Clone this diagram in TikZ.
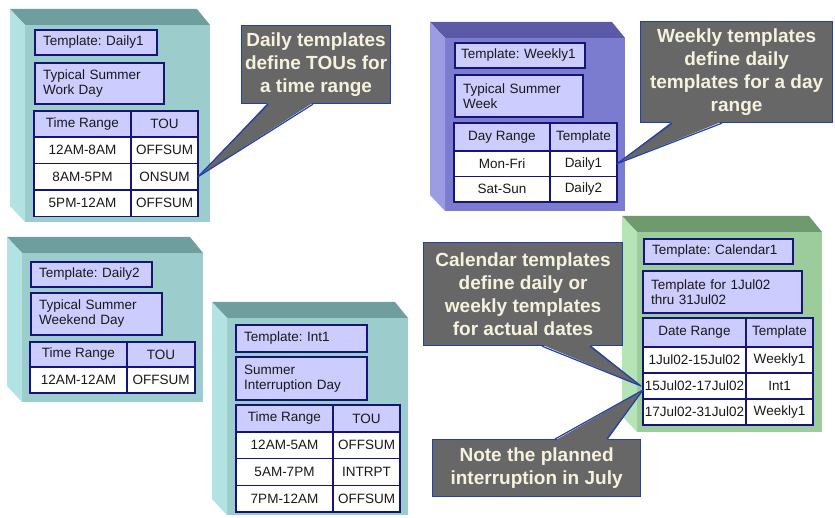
\documentclass[tikz,border=0pt]{standalone}
\usepackage{fontspec}
\setmainfont{Liberation Sans}
\usetikzlibrary{calc,positioning}
\frenchspacing
\definecolor{tealfront}{HTML}{9CCCCC}
\definecolor{tealtop}{HTML}{6F9E9E}
\definecolor{tealside}{HTML}{B3E2E2}
\definecolor{purpfront}{HTML}{7B7BCF}
\definecolor{purptop}{HTML}{5A5AA6}
\definecolor{purpside}{HTML}{9C9CE2}
\definecolor{greenfront}{HTML}{9CCC9C}
\definecolor{greentop}{HTML}{6F9A6F}
\definecolor{greenside}{HTML}{B6E4B6}
\definecolor{lav}{HTML}{CCCCFF}
\definecolor{navyline}{HTML}{14147A}
\definecolor{notefill}{HTML}{676767}
\definecolor{noteline}{HTML}{2140B0}
\definecolor{notetext}{HTML}{F6F2DE}

\begin{document}
\begin{tikzpicture}[x=1pt, y=-1pt,
	face/.style={anchor=north west, inner sep=0pt, outer sep=0pt},
	tbox/.style={anchor=north west, draw=navyline, line width=1.3pt, fill=lav, inner xsep=8pt, inner ysep=0pt, outer sep=0pt, align=left, text=black!90, font=\fontsize{13.5}{15}\selectfont},
	head/.style={anchor=north west, draw=navyline, line width=1.3pt, fill=lav, inner sep=0pt, outer sep=0pt, text=black!90, font=\fontsize{13.5}{15}\selectfont},
	cellw/.style={head, fill=white},
	note/.style={anchor=north west, draw=noteline, line width=1.2pt, fill=notefill, text=notetext, align=center, inner sep=0pt, font=\bfseries\fontsize{19}{23}\selectfont},
	pointer/.style={draw=noteline, line width=1.2pt, line join=round}]

	\useasboundingbox (0,0) rectangle (835,518);

	% Box fronts
	\node[face, fill=tealfront, minimum width=185, minimum height=197] (daily1) at (25,25) {};
	\node[face, fill=purpfront, minimum width=180, minimum height=173] (weekly1) at (445,38) {};
	\node[face, fill=tealfront, minimum width=181, minimum height=149] (daily2) at (22,253) {};
	\node[face, fill=tealfront, minimum width=181, minimum height=197] (int1) at (227,318) {};
	\node[face, fill=greenfront, minimum width=185, minimum height=200] (cal1) at (637,232) {};

	% Top and side faces
	\foreach \b/\col in {daily1/teal, weekly1/purp, daily2/teal, int1/teal, cal1/green} {
		\fill[fill=\col top] (\b.north west) -- ++(-15,-16) -- ($(\b.north east)+(-13,-16)$) -- (\b.north east) -- cycle;
		\fill[fill=\col side] (\b.north west) -- ++(-15,-16) -- ($(\b.south west)+(-15,-16)$) -- (\b.south west) -- cycle;
	}

	% Daily1
	\node[tbox, text width=106, minimum height=25] (d1name) at (35,30) {Template: Daily1};
	\node[tbox, text width=113, minimum height=41] (d1desc) at (35,63) {Typical Summer\\Work Day};
	\node[head, minimum width=97, minimum height=26] (d1ha) at (34,111) {Time Range};
	\node[head, minimum width=67, minimum height=26] (d1hb) at (131,111) {TOU};
	\foreach \t/\u [count=\i] in {12AM-8AM/OFFSUM, 8AM-5PM/ONSUM, 5PM-12AM/OFFSUM} {
		\node[cellw, minimum width=97, minimum height=26.5] (d1r\i a) at (34,110.5+26.5*\i) {\t};
		\node[cellw, minimum width=67, minimum height=26.5] (d1r\i b) at (131,110.5+26.5*\i) {\u};
	}

	% Weekly1
	\node[tbox, inner xsep=6pt, text width=118, minimum height=25] (wname) at (455,43) {Template: Weekly1};
	\node[tbox, text width=112, minimum height=42] (wdesc) at (455,75) {Typical Summer\\Week};
	\node[head, minimum width=96, minimum height=28] (wha) at (454,123) {Day Range};
	\node[head, minimum width=67, minimum height=28] (whb) at (550,123) {Template};
	\foreach \t/\u [count=\i] in {Mon-Fri/Daily1, Sat-Sun/Daily2} {
		\node[cellw, minimum width=96, minimum height=25.5] (wr\i a) at (454,125.5+25.5*\i) {\t};
		\node[cellw, minimum width=67, minimum height=25.5] (wr\i b) at (550,125.5+25.5*\i) {\u};
	}

	% Daily2
	\node[tbox, text width=105, minimum height=25] (d2name) at (31,262) {Template: Daily2};
	\node[tbox, text width=115, minimum height=42] (d2desc) at (31,293) {Typical Summer\\Weekend Day};
	\node[head, minimum width=97, minimum height=25] (d2ha) at (30,342) {Time Range};
	\node[head, minimum width=68, minimum height=25] (d2hb) at (127,342) {TOU};
	\node[cellw, minimum width=97, minimum height=26] (d2r1a) at (30,367) {12AM-12AM};
	\node[cellw, minimum width=68, minimum height=26] (d2r1b) at (127,367) {OFFSUM};

	% Int1
	\node[tbox, text width=115, minimum height=27] (iname) at (236,325) {Template: Int1};
	\node[tbox, text width=115, minimum height=43] (idesc) at (236,357) {Summer\\Interruption Day};
	\node[head, minimum width=97, minimum height=27] (iha) at (236,405) {Time Range};
	\node[head, minimum width=67, minimum height=27] (ihb) at (333,405) {TOU};
	\foreach \t/\u [count=\i] in {12AM-5AM/OFFSUM, 5AM-7PM/INTRPT, 7PM-12AM/OFFSUM} {
		\node[cellw, minimum width=97, minimum height=26.7] (ir\i a) at (236,405.3+26.7*\i) {\t};
		\node[cellw, minimum width=67, minimum height=26.7] (ir\i b) at (333,405.3+26.7*\i) {\u};
	}

	% Calendar1
	\node[tbox, text width=133, minimum height=25] (cname) at (644,239) {Template: Calendar1};
	\node[tbox, text width=143, minimum height=42] (cdesc) at (643,271) {Template for 1Jul02\\thru 31Jul02};
	\node[head, minimum width=103, minimum height=29] (cha) at (643,318) {Date Range};
	\node[head, minimum width=67, minimum height=29] (chb) at (746,318) {Template};
	\foreach \t/\u [count=\i] in {1Jul02-15Jul02/Weekly1, 15Jul02-17Jul02/Int1, 17Jul02-31Jul02/Weekly1} {
		\node[cellw, minimum width=103, minimum height=26] (cr\i a) at (643,321+26*\i) {\t};
		\node[cellw, minimum width=67, minimum height=26] (cr\i b) at (746,321+26*\i) {\u};
	}

	% Callouts
	\node[note, minimum width=149, minimum height=78] (c1) at (241,25) {Daily templates\\define TOUs for\\a time range};
	\node[note, minimum width=192, minimum height=101] (c2) at (640,21) {Weekly templates\\define daily\\templates for a day\\range};
	\node[note, minimum width=199, minimum height=103] (c3) at (423,242) {Calendar templates\\define daily or\\weekly templates\\for actual dates};
	\node[note, minimum width=208, minimum height=57] (c4) at (432,439) {Note the planned\\interruption in July};

	% Pointers
	\fill[notefill] ($(c1.south west)+(27,-1.5)$) -- (d1r2b.east) -- ($(c1.south west)+(72,-1.5)$) -- cycle;
	\draw[pointer] ($(c1.south west)+(27,0)$) -- (d1r2b.east) -- ($(c1.south west)+(72,0)$);
	\fill[notefill] ($(c2.south west)+(32,-1.5)$) -- (wr1b.east) -- ($(c2.south west)+(82,-1.5)$) -- cycle;
	\draw[pointer] ($(c2.south west)+(32,0)$) -- (wr1b.east) -- ($(c2.south west)+(82,0)$);
	\fill[notefill] ($(c3.south west)+(119,-1.5)$) -- ($(cr2a.west)+(-2,0)$) -- ($(c3.south west)+(167,-1.5)$) -- cycle;
	\draw[pointer] ($(c3.south west)+(119,0)$) -- ($(cr2a.west)+(-2,0)$) -- ($(c3.south west)+(167,0)$);
	\fill[notefill] ($(c4.north west)+(123,1.5)$) -- ($(cr2a.west)+(0,4)$) -- ($(c4.north west)+(175,1.5)$) -- cycle;
	\draw[pointer] ($(c4.north west)+(123,0)$) -- ($(cr2a.west)+(0,4)$) -- ($(c4.north west)+(175,0)$);
\end{tikzpicture}
\end{document}
